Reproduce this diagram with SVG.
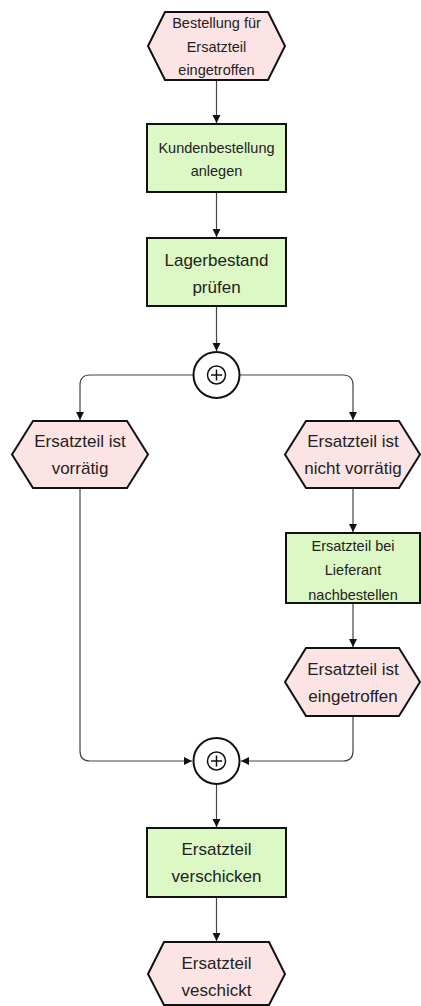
<svg xmlns="http://www.w3.org/2000/svg" width="421" height="1006" viewBox="0 0 421 1006">
<style>
.ev{fill:#fde4e4;stroke:#111;stroke-width:2;stroke-linejoin:miter}
.fn{fill:#dcf8c4;stroke:#111;stroke-width:2}
.gw{fill:#fff;stroke:#111;stroke-width:2}
.gs{fill:none;stroke:#111;stroke-width:1.5}
.cn{fill:none;stroke:#444;stroke-width:1.2}
text{font-family:"Liberation Sans",Arial,sans-serif;fill:#222;text-anchor:middle;dominant-baseline:central}
.s{font-size:14.5px}
.l{font-size:17px}
</style>
<defs>
<marker id="ah" markerUnits="userSpaceOnUse" markerWidth="9" markerHeight="9" refX="8" refY="4" orient="auto">
<path d="M0,0 L8,4 L0,8 z" fill="#111"/>
</marker>
</defs>
<g id="connectors">
<path class="cn" d="M216.5,80 V123" marker-end="url(#ah)"/>
<path class="cn" d="M216.5,192 V237" marker-end="url(#ah)"/>
<path class="cn" d="M216.5,306 V351" marker-end="url(#ah)"/>
<path class="cn" d="M193,375 H90 Q80,375 80,385 V420" marker-end="url(#ah)"/>
<path class="cn" d="M240,375 H343 Q353,375 353,385 V420" marker-end="url(#ah)"/>
<path class="cn" d="M353,488 V532" marker-end="url(#ah)"/>
<path class="cn" d="M353,603 V647" marker-end="url(#ah)"/>
<path class="cn" d="M80,488 V751 Q80,761 90,761 H192" marker-end="url(#ah)"/>
<path class="cn" d="M353,716 V751 Q353,761 343,761 H241" marker-end="url(#ah)"/>
<path class="cn" d="M216.5,784 V827" marker-end="url(#ah)"/>
<path class="cn" d="M216.5,897 V941" marker-end="url(#ah)"/>
</g>
<g id="e1">
<polygon class="ev" points="148,46 165,12 268,12 285,46 268,80 165,80"/>
<text class="s" x="216.5" y="23">Bestellung für</text>
<text class="s" x="216.5" y="46.5">Ersatzteil</text>
<text class="s" x="216.5" y="70">eingetroffen</text>
</g>
<g id="f1">
<rect class="fn" x="147" y="124" width="139" height="68"/>
<text class="s" x="216.5" y="148">Kundenbestellung</text>
<text class="s" x="216.5" y="170.5">anlegen</text>
</g>
<g id="f2">
<rect class="fn" x="147" y="238" width="139" height="68"/>
<text class="l" x="216.5" y="260">Lagerbestand</text>
<text class="l" x="216.5" y="287">prüfen</text>
</g>
<g id="g1">
<circle class="gw" cx="216.5" cy="375" r="23"/>
<circle class="gs" cx="216.5" cy="375" r="9"/>
<path class="gs" d="M211,375 H222 M216.5,369.5 V380.5"/>
</g>
<g id="e2">
<polygon class="ev" points="12,454.5 33,421 127,421 148,454.5 127,488 33,488"/>
<text class="l" x="80" y="441.5">Ersatzteil ist</text>
<text class="l" x="80" y="468.5">vorrätig</text>
</g>
<g id="e3">
<polygon class="ev" points="285,454.5 306,421 399,421 420,454.5 399,488 306,488"/>
<text class="l" x="353" y="441.5">Ersatzteil ist</text>
<text class="l" x="353" y="468.5">nicht vorrätig</text>
</g>
<g id="f3">
<rect class="fn" x="286" y="533" width="134" height="70"/>
<text class="s" x="353" y="545.5">Ersatzteil bei</text>
<text class="s" x="353" y="570">Lieferant</text>
<text class="s" x="353" y="594.5">nachbestellen</text>
</g>
<g id="e4">
<polygon class="ev" points="285,682 306,648 399,648 420,682 399,716 306,716"/>
<text class="l" x="353" y="669">Ersatzteil ist</text>
<text class="l" x="353" y="696">eingetroffen</text>
</g>
<g id="g2">
<circle class="gw" cx="216.5" cy="761" r="23"/>
<circle class="gs" cx="216.5" cy="761" r="9"/>
<path class="gs" d="M211,761 H222 M216.5,755.5 V766.5"/>
</g>
<g id="f4">
<rect class="fn" x="147" y="828" width="139" height="69"/>
<text class="l" x="216.5" y="849.5">Ersatzteil</text>
<text class="l" x="216.5" y="876.5">verschicken</text>
</g>
<g id="e5">
<polygon class="ev" points="148,974 164,942 269,942 285,974 269,1005 164,1005"/>
<text class="l" x="216.5" y="963.5">Ersatzteil</text>
<text class="l" x="216.5" y="990.5">veschickt</text>
</g>
</svg>
